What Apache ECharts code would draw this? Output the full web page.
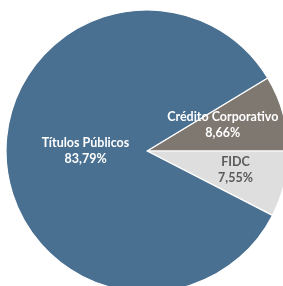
<!DOCTYPE html>
<html><head><meta charset="utf-8">
<script src="https://cdn.jsdelivr.net/npm/echarts@6/dist/echarts.min.js"></script>
<style>html,body{margin:0;padding:0;background:#fff}#c{width:283px;height:286px}</style>
</head><body><div id="c"></div>
<script>
const categories = ['Crédito Corporativo', 'FIDC', 'Títulos Públicos'];
const values = [8.66, 7.55, 83.79];
const labelsPct = ['8,66%', '7,55%', '83,79%'];
const colors = ['#7f7870', '#dedede', '#4a7091'];
const labelColors = ['#ffffff', '#595959', '#ffffff'];
const labelOffsets = [[5, -6], [17, 2], [12, -3]];

const chart = echarts.init(document.getElementById('c'), null, {renderer: 'canvas'});
chart.setOption({
  animation: false,
  series: [{
    type: 'pie',
    center: [147, 151],
    radius: 141,
    startAngle: 360 * values[0] / 100,
    clockwise: true,
    avoidLabelOverlap: false,
    itemStyle: {borderColor: '#ffffff', borderWidth: 1.2},
    label: {
      show: true, position: 'inside',
      fontFamily: 'Lato', fontWeight: 'bold', fontSize: 12.5, lineHeight: 16
    },
    labelLine: {show: false},
    emphasis: {disabled: true},
    data: categories.map((n, i) => ({
      name: n, value: values[i],
      itemStyle: {color: colors[i]},
      label: {color: labelColors[i], offset: labelOffsets[i], formatter: n + '\n' + labelsPct[i]}
    }))
  }]
});
</script></body></html>
